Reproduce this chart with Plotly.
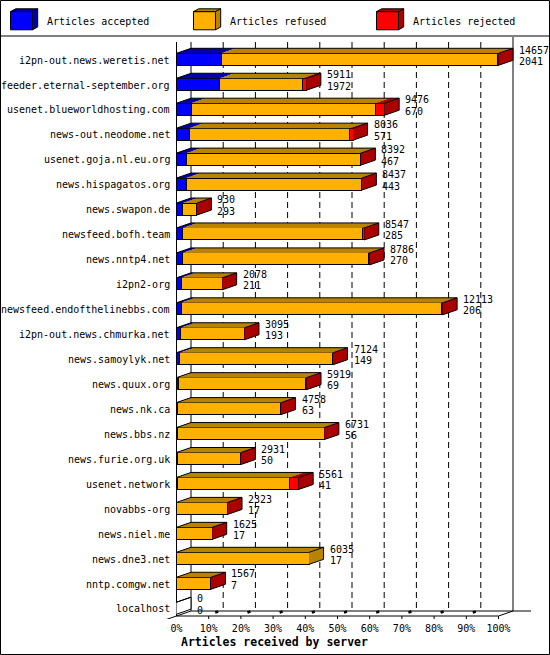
import plotly.graph_objects as go

# innfeed-like report: articles received by server
servers = [
    "i2pn-out.news.weretis.net", "feeder.eternal-september.org",
    "usenet.blueworldhosting.com", "news-out.neodome.net",
    "usenet.goja.nl.eu.org", "news.hispagatos.org", "news.swapon.de",
    "newsfeed.bofh.team", "news.nntp4.net", "i2pn2-org",
    "newsfeed.endofthelinebbs.com", "i2pn-out.news.chmurka.net",
    "news.samoylyk.net", "news.quux.org", "news.nk.ca", "news.bbs.nz",
    "news.furie.org.uk", "usenet.network", "novabbs-org", "news.niel.me",
    "news.dne3.net", "nntp.comgw.net", "localhost",
]
accepted = [2041, 1972, 670, 571, 467, 443, 293, 285, 270, 211, 206, 193,
            149, 69, 63, 56, 50, 41, 17, 17, 17, 7, 0]
refused = [12556, 3769, 8366, 7325, 7895, 7974, 634, 8172, 8456, 1862, 11837,
           2897, 6965, 5825, 4690, 6665, 2878, 5090, 2301, 1605, 6018, 1557, 0]
rejected = [60, 170, 440, 140, 30, 20, 3, 90, 60, 5, 70, 5, 10, 25, 5, 10, 3,
            430, 5, 3, 0, 3, 0]

series_names = ["Articles accepted", "Articles refused", "Articles rejected"]
front_colors = ["#0000ff", "#ffb000", "#ff0000"]
dark_colors = ["#0000aa", "#b88400", "#aa0000"]
pct_ticks = list(range(0, 101, 10))

# geometry (pixels)
W, H = 550, 655
L_M, R_M, T_M, B_M = 150, 5, 37, 36
PX_PCT = 3.22      # px per percent
X0 = 176.5         # px of front 0 %
ROW = 24.95        # px per row
Y0 = 59.3          # px of first row centre
FONT = "DejaVu Sans Mono"

DX = 14.5 / PX_PCT   # depth in x (percent units)
DY = 5 / ROW         # depth in y (row units)
BAR_H = 12 / ROW

series = [accepted, refused, rejected]
totals = [a + r + j for a, r, j in zip(accepted, refused, rejected)]
top_total = max(totals)
rows = list(range(len(servers)))


def pct(v):
    return v / top_total * 100


def paper_x(px):
    return (px - L_M) / (W - L_M - R_M)


def paper_y(py):
    return (H - B_M - py) / (H - T_M - B_M)


fig = go.Figure()

# front faces
for k, vals in enumerate(series):
    fig.add_bar(y=rows, x=[pct(v) for v in vals], orientation="h", width=BAR_H,
                marker=dict(color=front_colors[k], line=dict(color="black", width=1)),
                name=series_names[k], hoverinfo="skip", showlegend=False)

# top faces, one trace per series
for k, vals in enumerate(series):
    xs, ys = [], []
    for i in rows:
        start = pct(sum(series[j][i] for j in range(k)))
        end = start + pct(vals[i])
        if vals[i] <= 0:
            continue
        yt = i - BAR_H / 2
        xs += [start, end, end + DX, start + DX, start, None]
        ys += [yt, yt, yt - DY, yt - DY, yt, None]
    fig.add_scatter(x=xs, y=ys, mode="lines", fill="toself",
                    fillcolor=dark_colors[k], line=dict(width=0, color=dark_colors[k]),
                    hoverinfo="skip", showlegend=False)

# side faces coloured like the last non-empty segment
side_groups = {}
for i in rows:
    col = "white"
    for k in range(3):
        if series[k][i] > 0:
            col = dark_colors[k]
    side_groups.setdefault(col, []).append(i)
for col, idx in side_groups.items():
    xs, ys = [], []
    for i in idx:
        e = pct(totals[i])
        yt, yb = i - BAR_H / 2, i + BAR_H / 2
        xs += [e, e + DX, e + DX, e, e, None]
        ys += [yt, yt - DY, yb - DY, yb, yt, None]
    fig.add_scatter(x=xs, y=ys, mode="lines", fill="toself", fillcolor=col,
                    line=dict(width=0, color=col), hoverinfo="skip", showlegend=False)

# outlines of top and side
xs, ys = [], []
for i in rows:
    e = pct(totals[i])
    yt, yb = i - BAR_H / 2, i + BAR_H / 2
    xs += [0, DX, e + DX, e + DX, e, None, e, e + DX, None]
    ys += [yt, yt - DY, yt - DY, yb - DY, yb, None, yt, yt - DY, None]
fig.add_scatter(x=xs, y=ys, mode="lines", line=dict(color="black", width=1),
                hoverinfo="skip", showlegend=False)

# walls and floor
floor_front = (616 - Y0) / ROW
floor_back = floor_front - DY
wall_top = (42 - Y0) / ROW
y_top = (T_M - Y0) / ROW
shapes = []
line = dict(color="black", width=1)
shapes.append(dict(type="line", x0=0, x1=0, y0=wall_top, y1=floor_front, line=line))
shapes.append(dict(type="line", x0=DX, x1=DX, y0=wall_top, y1=floor_back, line=line))
shapes.append(dict(type="line", x0=100 + DX, x1=100 + DX, y0=y_top, y1=floor_back, line=line))
for t in pct_ticks[1:-1]:
    shapes.append(dict(type="line", x0=t + DX, x1=t + DX, y0=wall_top, y1=floor_back,
                       line=dict(color="black", width=1, dash="6px,4px")))
shapes.append(dict(type="line", x0=DX, x1=100 + DX + 18 / PX_PCT, y0=floor_back, y1=floor_back, line=line))
shapes.append(dict(type="line", x0=0, x1=100, y0=floor_front, y1=floor_front, line=line))
shapes.append(dict(type="line", x0=100, x1=100 + DX, y0=floor_front, y1=floor_back, line=line))
shapes.append(dict(type="line", x0=-DX, x1=DX, y0=floor_front + DY, y1=floor_back, line=line))
# floor ticks: small mark under the front edge and a dot near the back edge
for t in pct_ticks[1:]:
    shapes.append(dict(type="line", x0=t, x1=t,
                       y0=floor_front, y1=floor_front + 4 / ROW, line=line))
for t in pct_ticks[1:-1]:
    shapes.append(dict(type="line", x0=t + 6.5 / PX_PCT, x1=t + 9.5 / PX_PCT,
                       y0=floor_back + 1.5 / ROW, y1=floor_back + 0.5 / ROW,
                       line=dict(color="black", width=2.5)))
for s in shapes:
    s["layer"] = "below"

# frame and legend separator
shapes.append(dict(type="rect", xref="paper", yref="paper", x0=paper_x(0.5), x1=paper_x(549.5),
                   y0=paper_y(0.5), y1=paper_y(654.5), line=line, layer="above"))
shapes.append(dict(type="line", xref="paper", yref="paper", x0=paper_x(0), x1=paper_x(550),
                   y0=paper_y(36), y1=paper_y(36), line=line, layer="above"))


def pth(pts):
    return "M " + " L ".join(f"{paper_x(a):.5f},{paper_y(b):.5f}" for a, b in pts) + " Z"


# legend boxes
annotations = []
for k, name in enumerate(series_names):
    bx = 10.5 + 183 * k
    fx0, fx1, fy0, fy1 = bx, bx + 22, 11.6, 29.8
    ox, oy = 5.2, -2.8
    shapes.append(dict(type="path", xref="paper", yref="paper",
                       path=pth([(fx0, fy0), (fx1, fy0), (fx1, fy1), (fx0, fy1)]),
                       fillcolor=front_colors[k], line=line))
    shapes.append(dict(type="path", xref="paper", yref="paper",
                       path=pth([(fx0, fy0), (fx1, fy0), (fx1 + ox, fy0 + oy), (fx0 + ox, fy0 + oy)]),
                       fillcolor=dark_colors[k], line=line))
    shapes.append(dict(type="path", xref="paper", yref="paper",
                       path=pth([(fx1, fy0), (fx1 + ox, fy0 + oy), (fx1 + ox, fy1 + oy), (fx1, fy1)]),
                       fillcolor=dark_colors[k], line=line))
    annotations.append(dict(xref="paper", yref="paper", x=paper_x(bx + 34), y=paper_y(21),
                            text=name, showarrow=False, xanchor="left", yanchor="middle",
                            font=dict(family=FONT, size=10, color="black")))

# server labels and values
for i in rows:
    annotations.append(dict(x=-4.5 / PX_PCT, y=i + 0.03, text=servers[i], showarrow=False,
                            xanchor="right", yanchor="middle",
                            font=dict(family=FONT, size=10, color="black")))
    vx = pct(totals[i]) + DX + 4 / PX_PCT
    annotations.append(dict(x=vx, y=i - 9.3 / ROW, text=str(totals[i]), showarrow=False,
                            xanchor="left", yanchor="middle",
                            font=dict(family=FONT, size=10, color="black")))
    annotations.append(dict(x=vx, y=i + 2 / ROW, text=str(accepted[i]), showarrow=False,
                            xanchor="left", yanchor="middle",
                            font=dict(family=FONT, size=10, color="black")))

annotations.append(dict(xref="paper", yref="paper", x=paper_x(179), y=paper_y(642),
                        text="<b>Articles received by server</b>", showarrow=False,
                        xanchor="left", yanchor="middle",
                        font=dict(family=FONT, size=11.5, color="black")))

fig.update_layout(
    width=W, height=H,
    margin=dict(l=L_M, r=R_M, t=T_M, b=B_M, pad=0),
    plot_bgcolor="white", paper_bgcolor="white",
    barmode="stack", showlegend=False,
    shapes=shapes, annotations=annotations,
    xaxis=dict(range=[(L_M - X0) / PX_PCT, (W - R_M - X0) / PX_PCT],
               tickvals=pct_ticks, ticktext=[f"{t}%" for t in pct_ticks],
               tickfont=dict(family=FONT, size=10, color="black"),
               ticklabelstandoff=2,
               showgrid=False, zeroline=False, showline=False, ticks="",
               automargin=False, fixedrange=True),
    yaxis=dict(range=[(H - B_M - Y0) / ROW, (T_M - Y0) / ROW],
               showticklabels=False, showgrid=False, zeroline=False,
               showline=False, ticks="", automargin=False, fixedrange=True),
)

# page body has an 8px default margin; drop it so the chart sits at the corner
fig.write_html("out.html", config={"displayModeBar": False},
               post_script="document.body.style.margin='0';")
